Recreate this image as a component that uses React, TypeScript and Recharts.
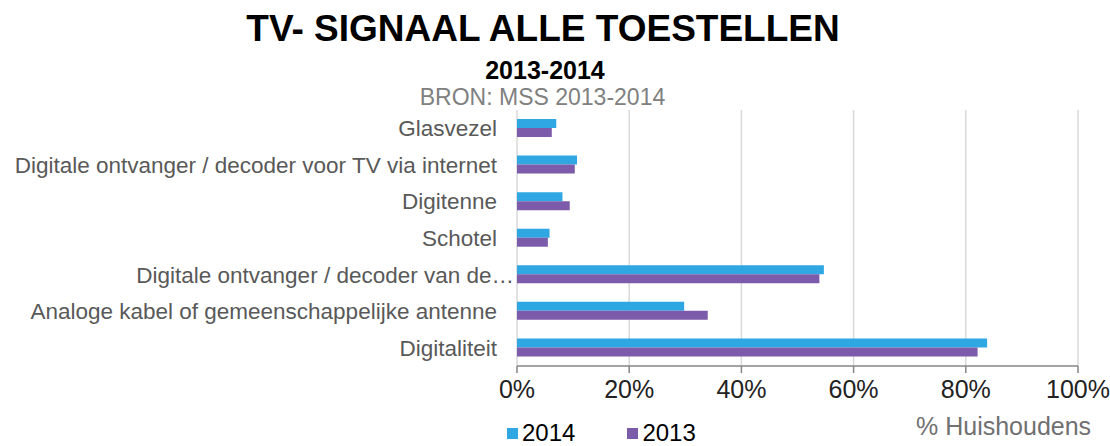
import React from 'react';
import { BarChart, Bar, XAxis, YAxis, CartesianGrid, ReferenceLine } from 'recharts';

const categories = [
  'Glasvezel',
  'Digitale ontvanger / decoder voor TV via internet',
  'Digitenne ',
  'Schotel',
  'Digitale ontvanger / decoder van de kabelaanbieder',
  'Analoge kabel of gemeenschappelijke antenne',
  'Digitaliteit',
];
const values2014 = [7.0, 10.7, 8.1, 5.8, 54.7, 29.8, 83.8];
const values2013 = [6.2, 10.3, 9.4, 5.5, 53.9, 34.0, 82.1];
const xTicks = [0, 20, 40, 60, 80, 100];

const BLUE = '#2EA7E2';
const PURPLE = '#7B5BAA';
const FONT = '"Liberation Sans", Arial, sans-serif';

const data = categories.map((name, i) => ({ name, y2014: values2014[i], y2013: values2013[i] }));

// Excel cuts the longest label off with an ellipsis
const shorten = (s: string) => (s.length > 49 ? s.slice(0, 35) + '…' : s);

const CategoryTick = (props: any) => {
  const { y, payload } = props;
  const short = shorten(payload.value);
  return (
    <text x={short === payload.value ? 497 : 514} y={y} dy={8} textAnchor="end" fontSize={22.5} fill="#595959" fontFamily={FONT}>
      {short}
    </text>
  );
};

const App: React.FC = () => {
  return (
    <div style={{ position: 'absolute', left: 0, top: 0, width: 1110, height: 446, background: '#fff', fontFamily: FONT }}>
      <div style={{ position: 'absolute', left: 0, width: 1086, top: 8, textAlign: 'center', fontSize: 37, fontWeight: 'bold', color: '#000' }}>
        TV- SIGNAAL ALLE TOESTELLEN
      </div>
      <div style={{ position: 'absolute', left: 0, width: 1090, top: 56, textAlign: 'center', fontSize: 25, fontWeight: 'bold', color: '#000' }}>
        2013-2014
      </div>
      <div style={{ position: 'absolute', left: 0, width: 1085, top: 84, textAlign: 'center', fontSize: 23, color: '#808080' }}>
        BRON: MSS 2013-2014
      </div>
      <BarChart
        width={1110}
        height={446}
        data={data}
        layout="vertical"
        margin={{ top: 110, right: 32, bottom: 50, left: 0 }}
        barCategoryGap="25%"
        barGap={0}
      >
        <CartesianGrid horizontal={false} stroke="#D9D9D9" strokeWidth={1.5} />
        <XAxis
          type="number"
          domain={[0, 100]}
          ticks={xTicks}
          tickFormatter={(v: number) => `${v}%`}
          stroke="#868686"
          strokeWidth={1.5}
          tickSize={7}
          height={30}
          tick={{ fontSize: 25, fill: '#222', fontFamily: FONT, dy: 5 }}
          interval={0}
        />
        <YAxis yAxisId="cat" type="category" dataKey="name" width={517} tickLine={false} axisLine={false} tick={<CategoryTick />} interval={0} />
        <YAxis
          yAxisId="ticks"
          type="number"
          domain={[0, 7]}
          ticks={[0, 1, 2, 3, 4, 5, 6, 7]}
          width={0}
          stroke="#868686"
          strokeWidth={1.5}
          tickSize={7}
          tickFormatter={() => ''}
          interval={0}
        />
        <ReferenceLine yAxisId="ticks" y={7} stroke="#D9D9D9" strokeWidth={1.5} />
        <Bar yAxisId="cat" dataKey="y2014" fill={BLUE} barSize={9} isAnimationActive={false} />
        <Bar yAxisId="cat" dataKey="y2013" fill={PURPLE} barSize={9} isAnimationActive={false} />
      </BarChart>
      <div style={{ position: 'absolute', left: 916, top: 412, fontSize: 25, color: '#707070' }}>% Huishoudens</div>
      <div style={{ position: 'absolute', left: 507, top: 421, fontSize: 24, lineHeight: '24px', color: '#000', display: 'flex', alignItems: 'center' }}>
        <span style={{ display: 'inline-block', width: 11, height: 11, background: BLUE, marginRight: 4 }} />
        <span>2014</span>
        <span style={{ display: 'inline-block', width: 11, height: 11, background: PURPLE, marginLeft: 52, marginRight: 4 }} />
        <span>2013</span>
      </div>
    </div>
  );
};

export default App;
